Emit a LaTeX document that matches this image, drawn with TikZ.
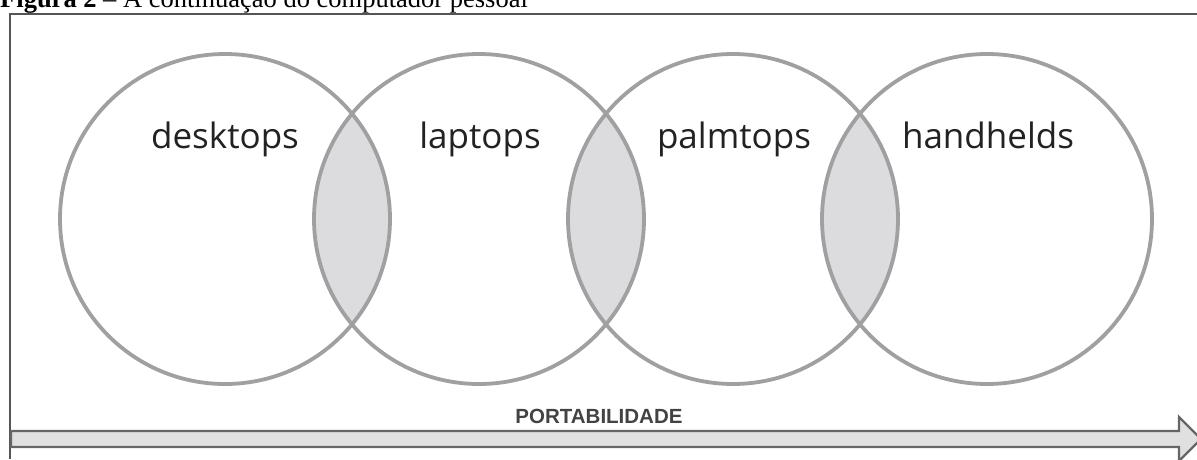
\documentclass[tikz,border=0pt]{standalone}
\usepackage{fontspec}
\setmainfont{Liberation Serif}
\newfontfamily\labelfont{Open Sans}
\newfontfamily\arrowfont{Liberation Sans}
\definecolor{ringgrey}{HTML}{A0A0A2}
\definecolor{lensgrey}{HTML}{DCDCDF}
\definecolor{framegrey}{HTML}{555555}
\definecolor{arrowfill}{HTML}{E0E0E0}
\definecolor{textdark}{HTML}{222222}
\tikzset{
  ring/.style={draw=ringgrey, line width=3.8pt},
  setlabel/.style={font=\labelfont\fontsize{35}{40}\selectfont, text=textdark, anchor=base, inner sep=0pt},
  framerule/.style={draw=framegrey, line width=2pt},
  bigarrow/.style={draw=framegrey!90, fill=arrowfill, line width=2.4pt, line join=miter},
}
\begin{document}
\begin{tikzpicture}[x=1pt,y=-1pt]
\useasboundingbox (0,0) rectangle (1197,459);
% caption, cut off at the top
\begin{scope}
\clip (0,0) rectangle (1197,12);
\node[anchor=base west, inner sep=0pt, font=\fontsize{26.5}{30}\selectfont] (cap) at (0,7)
  {\textbf{Figura 2} -- A continuação do computador pessoal};
\end{scope}
% frame
\draw[framerule] (9.5,459) -- (9.5,14) -- (1197,14);
% centres
\coordinate (c1) at (225,219);
\coordinate (c2) at (479,219);
\coordinate (c3) at (733,219);
\coordinate (c4) at (987,219);
% lenses
\begin{scope}
\clip (c1) circle[radius=165];
\fill[lensgrey] (c2) circle[radius=165];
\end{scope}
\begin{scope}
\clip (c2) circle[radius=165];
\fill[lensgrey] (c3) circle[radius=165];
\end{scope}
\begin{scope}
\clip (c3) circle[radius=165];
\fill[lensgrey] (c4) circle[radius=165];
\end{scope}
% rings
\draw[ring] (c1) circle[radius=165];
\draw[ring] (c2) circle[radius=165];
\draw[ring] (c3) circle[radius=165];
\draw[ring] (c4) circle[radius=165];
% labels
\node[setlabel] (l1) at (225,148) {desktops};
\node[setlabel] (l2) at (480,148) {laptops};
\node[setlabel] (l3) at (734,148) {palmtops};
\node[setlabel] (l4) at (988,148) {handhelds};
% portability arrow
\draw[bigarrow] (11,431) -- (1179,431) -- (1179,417) -- (1201,439) -- (1179,461)
  -- (1179,447) -- (11,447) -- cycle;
\node[anchor=base, inner sep=0pt, font=\arrowfont\bfseries\fontsize{20.5}{24}\selectfont, text=textdark!85] (port) at (599,423) {PORTABILIDADE};
\end{tikzpicture}
\end{document}
